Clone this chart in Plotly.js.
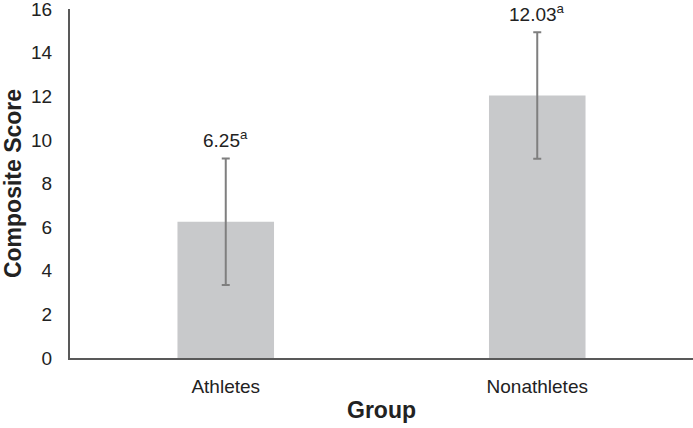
<!DOCTYPE html>
<html>
<head>
<meta charset="utf-8">
<script src="https://cdn.plot.ly/plotly-3.0.1.min.js"></script>
<style>html,body{margin:0;padding:0;background:#fff;}#chart{width:693px;height:428px;}</style>
</head>
<body>
<div id="chart"></div>
<script>
const categories = ["Athletes", "Nonathletes"];
const means = [6.25, 12.03];
const errors = [2.9, 2.9];
const labels = ["6.25<sup>a</sup>", "12.03<sup>a</sup>"];
const yTicks = [0, 2, 4, 6, 8, 10, 12, 14, 16];

const trace = {
  type: "bar",
  x: categories,
  y: means,
  marker: {color: "#c8c9cb"},
  error_y: {type: "data", array: errors, visible: true, color: "#7f7f7f", thickness: 2, width: 4},
  hoverinfo: "none"
};

const annotations = categories.map((c, i) => ({
  x: c, y: means[i] + errors[i], xref: "x", yref: "y",
  text: labels[i], showarrow: false, yanchor: "bottom", yshift: 5,
  font: {family: "Liberation Sans, Arial, sans-serif", size: 19, color: "#222"}
}));

const layout = {
  width: 693, height: 428,
  margin: {l: 70, r: 0, t: 9, b: 70},
  paper_bgcolor: "#fff", plot_bgcolor: "#fff",
  bargap: 0.69,
  showlegend: false,
  font: {family: "Liberation Sans, Arial, sans-serif", size: 19, color: "#222"},
  xaxis: {
    showline: true, linecolor: "#595959", linewidth: 2,
    showgrid: false, zeroline: false, ticks: "",
    ticklabelstandoff: 10, automargin: false,
    tickfont: {size: 19},
    title: {text: "<b>Group</b>", font: {size: 23, color: "#222"}, standoff: 6}
  },
  yaxis: {
    range: [0, 16], tickvals: yTicks, ticktext: yTicks.map(String),
    showline: true, linecolor: "#595959", linewidth: 2,
    showgrid: false, zeroline: false, ticks: "",
    ticklabelstandoff: 12, automargin: false, ticklabeloverflow: "allow",
    tickfont: {size: 19},
    title: {text: "<b>Composite Score</b>", font: {size: 23, color: "#222"}, standoff: 10}
  },
  annotations: annotations
};

Plotly.newPlot("chart", [trace], layout, {displayModeBar: false, staticPlot: true});
</script>
</body>
</html>
